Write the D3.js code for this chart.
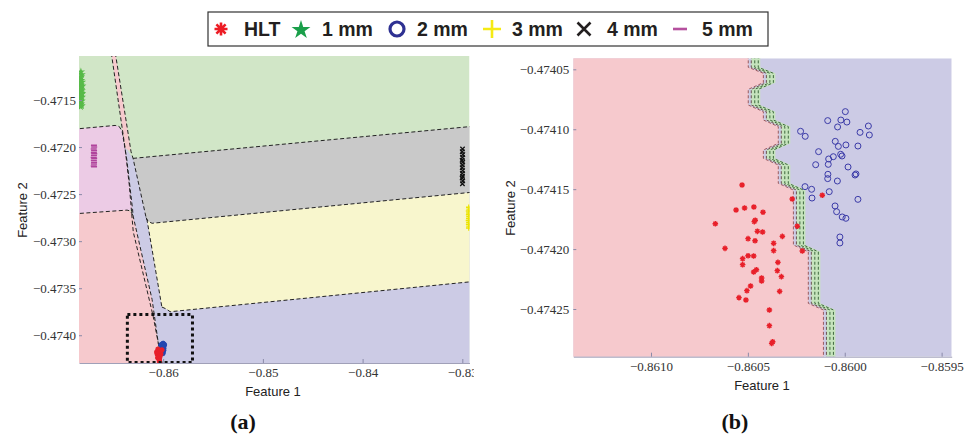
<!DOCTYPE html>
<meta charset="utf-8">
<head>
  <script src="https://d3js.org/d3.v7.min.js"></script>
  <style>
    body { margin: 0; background: #fff; }
    .tick text { font-family: "Liberation Serif", serif; font-size: 13px; fill: #333; }
    .tick line { stroke: #8a8aa8; }
    .domain { stroke: #a0a0b8; }
    .axlabel { font-family: "Liberation Sans", Arial, sans-serif; font-size: 13px; fill: #222; }
    .legtext { font-family: "Liberation Sans", Arial, sans-serif; font-size: 19.5px; font-weight: bold; fill: #231f20; }
    .panel { font-family: "Liberation Serif", serif; font-size: 22px; font-weight: bold; fill: #111; }
    .edge { fill: none; stroke: #222; stroke-width: 1; stroke-dasharray: 4,2.5; }
  </style>
</head>
<body>
<svg id="fig" width="969" height="437"></svg>
<script>
"use strict"

// ---- legend
var legendLabels = ["HLT", "1 mm", "2 mm", "3 mm", "4 mm", "5 mm"];

// ---- panel (a) ticks
var ticksXA = [-0.86, -0.85, -0.84, -0.83];
var ticksYA = [-0.4715, -0.4720, -0.4725, -0.4730, -0.4735, -0.4740];
// ---- panel (b) ticks
var ticksXB = [-0.8610, -0.8605, -0.8600, -0.8595];
var ticksYB = [-0.47405, -0.47410, -0.47415, -0.47420, -0.47425];

// ---- panel (a) decision regions [feature1, feature2]
var regionLavenderA = [[-0.86422,-0.47192],[-0.86302,-0.47213],[-0.8290,-0.47213],[-0.8290,-0.4743],[-0.86080,-0.4743]];
var regionGreyA = [[-0.86302,-0.47212],[-0.8290,-0.47178],[-0.8290,-0.47248],[-0.86111,-0.47281],[-0.86151,-0.47279],[-0.86171,-0.47275]];
var regionYellowA = [[-0.86161,-0.47278],[-0.86111,-0.47281],[-0.8290,-0.47248],[-0.8290,-0.47343],[-0.85930,-0.47375],[-0.85970,-0.47372],[-0.86013,-0.47370]];
var regionPinkA = [[-0.8690,-0.47181],[-0.86482,-0.47177],[-0.86442,-0.47178],[-0.86412,-0.47183],[-0.86365,-0.47213],[-0.86307,-0.47266],[-0.86332,-0.47267],[-0.8690,-0.47271]];
var regionRedA = [[-0.8690,-0.47271],[-0.86362,-0.47267],[-0.86327,-0.47268],[-0.86302,-0.47273],[-0.86111,-0.47362],[-0.86020,-0.4743],[-0.8690,-0.4743]];
var regionSliverA = [[-0.86520,-0.4710],[-0.86480,-0.4710],[-0.86322,-0.47205],[-0.86382,-0.47201]];

var edgesA = [
  [[-0.86302,-0.47212],[-0.8290,-0.47178]],
  [[-0.86171,-0.47275],[-0.86151,-0.47279],[-0.86111,-0.47281],[-0.8290,-0.47248]],
  [[-0.86013,-0.47370],[-0.85970,-0.47372],[-0.85930,-0.47375],[-0.8290,-0.47343]],
  [[-0.8690,-0.47181],[-0.86482,-0.47177],[-0.86442,-0.47178],[-0.86412,-0.47183],[-0.86365,-0.47213],[-0.86307,-0.47266],[-0.86302,-0.47273],[-0.86111,-0.47362],[-0.86020,-0.4743]],
  [[-0.8690,-0.47271],[-0.86362,-0.47267],[-0.86327,-0.47268],[-0.86302,-0.47273]],
  [[-0.86520,-0.4710],[-0.86382,-0.47201],[-0.86340,-0.47240],[-0.86300,-0.47290],[-0.86100,-0.47380],[-0.86010,-0.4743]],
  [[-0.86480,-0.4710],[-0.86322,-0.47205],[-0.86302,-0.47212],[-0.86171,-0.47275],[-0.86161,-0.47278],[-0.86013,-0.47370]]
];

var zoomBoxA = [[-0.86359,-0.47378],[-0.85706,-0.47429]];

// ---- clusters far from the zoom window (panel a)
var green1mm = [[-0.86825,-0.47120],[-0.86818,-0.47123],[-0.86830,-0.47126],[-0.86822,-0.47129],[-0.86815,-0.47131],
  [-0.86828,-0.47134],[-0.86820,-0.47136],[-0.86832,-0.47138],[-0.86817,-0.47140],[-0.86826,-0.47142],[-0.86821,-0.47144],
  [-0.86834,-0.47146],[-0.86816,-0.47147],[-0.86827,-0.47149],[-0.86819,-0.47151],[-0.86830,-0.47152],[-0.86823,-0.47154],
  [-0.86818,-0.47156],[-0.86828,-0.47157],[-0.86824,-0.47125],[-0.86812,-0.47135],[-0.86833,-0.47131],[-0.86813,-0.47143],[-0.86824,-0.47139]];
var magenta5mm = [[-0.86694,-0.47198],[-0.86692,-0.47200],[-0.86696,-0.47202],[-0.86693,-0.47204],[-0.86695,-0.47206],
  [-0.86691,-0.47207],[-0.86694,-0.47209],[-0.86697,-0.47211],[-0.86692,-0.47212],[-0.86695,-0.47214],[-0.86693,-0.47216],
  [-0.86694,-0.47218],[-0.86696,-0.47220],[-0.86693,-0.47221]];
var black4mm = [[-0.82998,-0.47202],[-0.83001,-0.47205],[-0.82995,-0.47208],[-0.82999,-0.47211],[-0.83002,-0.47214],
  [-0.82996,-0.47216],[-0.82999,-0.47219],[-0.83001,-0.47222],[-0.82997,-0.47225],[-0.83000,-0.47228],[-0.82998,-0.47231],
  [-0.83002,-0.47233],[-0.82996,-0.47236],[-0.82999,-0.47239]];
var yellow3mm = [[-0.82935,-0.47264],[-0.82932,-0.47266],[-0.82937,-0.47268],[-0.82934,-0.47270],[-0.82936,-0.47272],
  [-0.82933,-0.47274],[-0.82935,-0.47276],[-0.82938,-0.47278],[-0.82934,-0.47280],[-0.82936,-0.47282],[-0.82933,-0.47284],[-0.82935,-0.47286]];

// ---- HLT and 2 mm samples (panel b, also the blobs in panel a)
var blue2mm = [[-0.859997,-0.4740853],[-0.860088,-0.4740928],[-0.860020,-0.4740923],[-0.859989,-0.4740940],
  [-0.860037,-0.4740981],[-0.859878,-0.4740973],[-0.859921,-0.4741026],[-0.859873,-0.4741048],[-0.860228,-0.4741017],
  [-0.860204,-0.4741059],[-0.860049,-0.4741101],[-0.860033,-0.4741143],[-0.859994,-0.4741131],[-0.859932,-0.4741140],
  [-0.860135,-0.4741187],[-0.860059,-0.4741229],[-0.860021,-0.4741209],[-0.860014,-0.4741223],[-0.860083,-0.4741248],
  [-0.860085,-0.4741293],[-0.860150,-0.4741296],[-0.859983,-0.4741315],[-0.860087,-0.4741376],[-0.860088,-0.4741412],
  [-0.860038,-0.4741432],[-0.859942,-0.4741373],[-0.859947,-0.4741382],[-0.860205,-0.4741479],[-0.860171,-0.4741501],
  [-0.860169,-0.4741574],[-0.860080,-0.4741521],[-0.859932,-0.4741585],[-0.860050,-0.4741640],[-0.860042,-0.4741688],
  [-0.860013,-0.4741732],[-0.859994,-0.4741743],[-0.860025,-0.4741899],[-0.860025,-0.4741949]];
var redHLT = [[-0.860530,-0.4741465],[-0.860561,-0.4741674],[-0.860517,-0.4741657],[-0.860469,-0.4741649],
  [-0.860422,-0.4741693],[-0.860467,-0.4741771],[-0.860462,-0.4741760],[-0.860668,-0.4741788],[-0.860271,-0.4741582],
  [-0.860245,-0.4741810],[-0.860451,-0.4741852],[-0.860424,-0.4741857],[-0.860499,-0.4741913],[-0.860463,-0.4741930],
  [-0.860322,-0.4741894],[-0.860367,-0.4741952],[-0.860618,-0.4741994],[-0.860367,-0.4742013],[-0.860219,-0.4742016],
  [-0.860499,-0.4742055],[-0.860470,-0.4742058],[-0.860527,-0.4742080],[-0.860527,-0.4742130],[-0.860345,-0.4742111],
  [-0.860456,-0.4742172],[-0.860470,-0.4742191],[-0.860348,-0.4742180],[-0.860429,-0.4742241],[-0.860429,-0.4742266],
  [-0.860327,-0.4742230],[-0.860486,-0.4742308],[-0.860505,-0.4742347],[-0.860336,-0.4742353],[-0.860546,-0.4742405],
  [-0.860510,-0.4742425],[-0.860389,-0.4742508],[-0.860389,-0.4742639],[-0.860372,-0.4742773],[-0.860377,-0.4742787],
  [-0.860116,-0.4741551]];

// ---- panel (b) staircase boundary between HLT and 2 mm
var stairsB = [[-0.860498,-0.474030],[-0.860498,-0.4740483],[-0.860420,-0.4740533],[-0.860420,-0.4740611],
  [-0.860498,-0.4740667],[-0.860498,-0.4740798],[-0.860420,-0.4740853],[-0.860420,-0.4740923],[-0.860343,-0.4740978],
  [-0.860343,-0.4741118],[-0.860420,-0.4741173],[-0.860420,-0.4741243],[-0.860343,-0.4741298],[-0.860343,-0.4741451],
  [-0.860265,-0.4741507],[-0.860265,-0.4741966],[-0.860188,-0.4742022],[-0.860188,-0.4742453],[-0.860110,-0.4742508],
  [-0.860110,-0.474300]];

var cores = {red: "#f6c9cd", green: "#d1e6c7", grey: "#c9c9c9", yellow: "#f8f6cd", lav: "#cccbe5", pink: "#eccbe5"};

function asterisk(r) {
  var d = r * Math.SQRT1_2;
  return "M" + (-r) + ",0L" + r + ",0M0," + (-r) + "L0," + r +
         "M" + (-d) + "," + (-d) + "L" + d + "," + d + "M" + (-d) + "," + d + "L" + d + "," + (-d);
}
function plus(r) { return "M" + (-r) + ",0L" + r + ",0M0," + (-r) + "L0," + r; }
function cross(r) { return "M" + (-r) + "," + (-r) + "L" + r + "," + r + "M" + (-r) + "," + r + "L" + r + "," + (-r); }
function dash(r) { return "M" + (-r) + ",0L" + r + ",0"; }
function neg(n) { return function(d) { return "\u2212" + Math.abs(d).toFixed(n); }; }

var svg = d3.select("#fig");
var defs = svg.append("defs");

function desenhaPainelA() {
  var box = {x0: 79, x1: 469.5, y0: 56, y1: 363};
  var x = d3.scaleLinear().domain([-0.86844, -0.82928]).range([box.x0, box.x1]);
  var y = d3.scaleLinear().domain([-0.474295, -0.471032]).range([box.y1, box.y0]);

  defs.append("clipPath").attr("id", "clipA").append("rect")
      .attr("x", box.x0).attr("y", box.y0).attr("width", box.x1 - box.x0).attr("height", box.y1 - box.y0);
  defs.append("clipPath").attr("id", "clipAall").append("rect")
      .attr("x", 0).attr("y", 0).attr("width", 474).attr("height", 437);

  var outer = svg.append("g").attr("clip-path", "url(#clipAall)");
  var g = outer.append("g").attr("clip-path", "url(#clipA)");
  var line = d3.line().x(d => x(d[0])).y(d => y(d[1]));

  g.append("rect").attr("x", box.x0).attr("y", box.y0)
   .attr("width", box.x1 - box.x0).attr("height", box.y1 - box.y0).attr("fill", cores.green);

  var regs = [[regionLavenderA, cores.lav], [regionGreyA, cores.grey], [regionYellowA, cores.yellow],
              [regionPinkA, cores.pink], [regionRedA, cores.red], [regionSliverA, cores.red]];
  regs.forEach(function(r) {
    g.append("path").attr("d", line(r[0]) + "Z").attr("fill", r[1]);
  });

  g.selectAll("path.edge").data(edgesA).enter().append("path")
   .attr("class", "edge").attr("d", line);

  g.selectAll("path.g1").data(green1mm).enter().append("path")
   .attr("transform", d => "translate(" + x(d[0]) + "," + y(d[1]) + ")")
   .attr("d", d3.symbol().type(d3.symbolStar).size(22)).attr("fill", "#57ba48");
  g.selectAll("path.m5").data(magenta5mm).enter().append("path")
   .attr("transform", d => "translate(" + x(d[0]) + "," + y(d[1]) + ")")
   .attr("d", dash(3)).attr("stroke", "#b0449c").attr("stroke-width", 1.5);
  g.selectAll("path.k4").data(black4mm).enter().append("path")
   .attr("transform", d => "translate(" + x(d[0]) + "," + y(d[1]) + ")")
   .attr("d", cross(2.2)).attr("stroke", "#111").attr("stroke-width", 1.3);
  g.selectAll("path.y3").data(yellow3mm).enter().append("path")
   .attr("transform", d => "translate(" + x(d[0]) + "," + y(d[1]) + ")")
   .attr("d", plus(2.8)).attr("stroke", "#ece400").attr("stroke-width", 1.4);
  g.selectAll("circle.b2").data(blue2mm).enter().append("circle")
   .attr("cx", d => x(d[0])).attr("cy", d => y(d[1])).attr("r", 2.2)
   .attr("fill", "#2448b0").attr("stroke", "#2448b0").attr("stroke-width", 0.8);
  g.selectAll("path.hlt").data(redHLT).enter().append("path")
   .attr("transform", d => "translate(" + x(d[0]) + "," + y(d[1]) + ")")
   .attr("d", asterisk(2.5)).attr("stroke", "#e8202a").attr("stroke-width", 1.6);

  outer.append("rect")
   .attr("x", x(zoomBoxA[0][0])).attr("y", y(zoomBoxA[0][1]))
   .attr("width", x(zoomBoxA[1][0]) - x(zoomBoxA[0][0]))
   .attr("height", y(zoomBoxA[1][1]) - y(zoomBoxA[0][1]))
   .attr("fill", "none").attr("stroke", "#111").attr("stroke-width", 3).attr("stroke-dasharray", "3,3");

  outer.append("g").attr("transform", "translate(0," + box.y1 + ")")
   .call(d3.axisBottom(x).tickValues(ticksXA).tickFormat(neg(2)).tickSizeInner(-4).tickSizeOuter(0).tickPadding(5));
  outer.append("g").attr("transform", "translate(" + box.x0 + ",0)")
   .call(d3.axisLeft(y).tickValues(ticksYA).tickFormat(neg(4)).tickSizeInner(-3).tickSizeOuter(0).tickPadding(3))
   .select(".domain").remove();

  outer.append("text").attr("class", "axlabel").attr("text-anchor", "middle")
   .attr("x", 273).attr("y", 396).text("Feature 1");
  outer.append("text").attr("class", "axlabel").attr("text-anchor", "middle")
   .attr("transform", "translate(26.5,210) rotate(-90)").text("Feature 2");
  svg.append("text").attr("class", "panel").attr("text-anchor", "middle")
   .attr("x", 243).attr("y", 429).text("(a)");
}

function desenhaPainelB() {
  var box = {x0: 573.3, x1: 951.7, y0: 58.3, y1: 356.7};
  var x = d3.scaleLinear().domain([-0.861401, -0.859448]).range([box.x0, box.x1]);
  var y = d3.scaleLinear().domain([-0.4742898, -0.4740408]).range([box.y1, box.y0]);

  defs.append("clipPath").attr("id", "clipB").append("rect")
      .attr("x", box.x0).attr("y", box.y0).attr("width", box.x1 - box.x0).attr("height", box.y1 - box.y0);

  var g = svg.append("g").attr("clip-path", "url(#clipB)");
  var line = function(off) { return d3.line().x(d => x(d[0]) + off).y(d => y(d[1])); };

  g.append("rect").attr("x", box.x0).attr("y", box.y0)
   .attr("width", box.x1 - box.x0).attr("height", box.y1 - box.y0).attr("fill", cores.lav);

  var d0 = x.domain()[0], yd = y.domain();
  var redPoly = [[d0 - 0.0001, yd[1] + 0.0001]].concat(stairsB).concat([[d0 - 0.0001, yd[0] - 0.0001]]);
  g.append("path").attr("d", line(0)(redPoly) + "Z").attr("fill", cores.red);

  var bandL = line(3)(stairsB), bandR = line(12)(stairsB.slice().reverse());
  g.append("path").attr("d", bandL + "L" + bandR.slice(1) + "Z").attr("fill", "#c6e4bd");

  [[0, "#9a5a5e"], [3, "#6a5050"], [6.5, "#3f6a3f"], [10, "#3f6a3f"]].forEach(function(o) {
    g.append("path").attr("d", line(o[0])(stairsB)).attr("fill", "none")
     .attr("stroke", o[1]).attr("stroke-width", 1).attr("stroke-dasharray", "3,2");
  });

  g.selectAll("circle.b2").data(blue2mm).enter().append("circle")
   .attr("cx", d => x(d[0])).attr("cy", d => y(d[1])).attr("r", 3)
   .attr("fill", "none").attr("stroke", "#3b3ba8").attr("stroke-width", 1);
  g.selectAll("path.hlt").data(redHLT).enter().append("path")
   .attr("transform", d => "translate(" + x(d[0]) + "," + y(d[1]) + ")")
   .attr("d", asterisk(2.8)).attr("stroke", "#e8202a").attr("stroke-width", 1.4);

  svg.append("g").attr("transform", "translate(0," + box.y1 + ")")
   .call(d3.axisBottom(x).tickValues(ticksXB).tickFormat(neg(4)).tickSizeInner(-4).tickSizeOuter(0).tickPadding(5));
  svg.append("g").attr("transform", "translate(" + box.x0 + ",0)")
   .call(d3.axisLeft(y).tickValues(ticksYB).tickFormat(neg(5)).tickSizeInner(-3).tickSizeOuter(0).tickPadding(4))
   .select(".domain").remove();

  svg.append("text").attr("class", "axlabel").attr("text-anchor", "middle")
   .attr("x", 762).attr("y", 390).text("Feature 1");
  svg.append("text").attr("class", "axlabel").attr("text-anchor", "middle")
   .attr("transform", "translate(515,208) rotate(-90)").text("Feature 2");
  svg.append("text").attr("class", "panel").attr("text-anchor", "middle")
   .attr("x", 735).attr("y", 429).text("(b)");
}

function desenhaLegenda() {
  var g = svg.append("g");
  g.append("rect").attr("x", 208).attr("y", 12).attr("width", 560).attr("height", 34)
   .attr("fill", "#fff").attr("stroke", "#333").attr("stroke-width", 1.2);
  var cy = 29;
  g.append("path").attr("transform", "translate(221," + cy + ")").attr("d", asterisk(6.5))
   .attr("stroke", "#ed1c24").attr("stroke-width", 2.6);
  g.append("path").attr("transform", "translate(301," + (cy + 1) + ")")
   .attr("d", d3.symbol().type(d3.symbolStar).size(110)).attr("fill", "#1a9f4a");
  g.append("circle").attr("cx", 397).attr("cy", cy).attr("r", 7)
   .attr("fill", "none").attr("stroke", "#2e3192").attr("stroke-width", 3.2);
  g.append("path").attr("transform", "translate(492," + cy + ")").attr("d", plus(9))
   .attr("stroke", "#f5ea14").attr("stroke-width", 2.6);
  g.append("path").attr("transform", "translate(584," + cy + ")").attr("d", cross(6.5))
   .attr("stroke", "#231f20").attr("stroke-width", 2.6);
  g.append("path").attr("transform", "translate(680," + cy + ")").attr("d", dash(7))
   .attr("stroke", "#b5509e").attr("stroke-width", 2.6);
  var xs = [244, 322, 417, 512, 607, 702];
  g.selectAll("text").data(legendLabels).enter().append("text")
   .attr("class", "legtext").attr("x", (d, i) => xs[i]).attr("y", 36).text(d => d);
}

desenhaPainelA();
desenhaPainelB();
desenhaLegenda();
</script>
</body>
